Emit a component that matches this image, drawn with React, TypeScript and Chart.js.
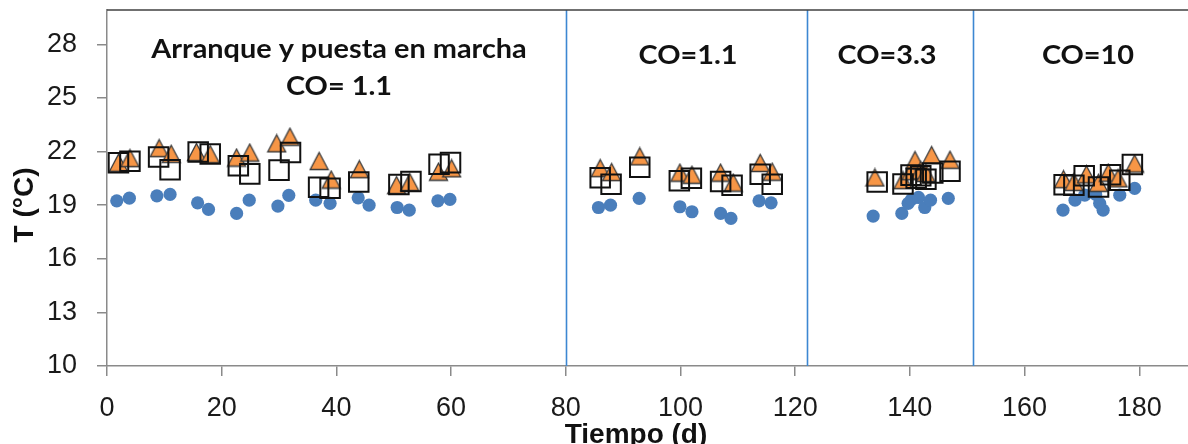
import React, { useEffect, useRef } from 'react';
import { Chart, registerables } from 'chart.js';

Chart.register(...registerables);

// ---- Data ----
const circleDays = [1.7, 3.9, 8.7, 11.0, 15.8, 17.7, 22.6, 24.8, 29.8, 31.7, 36.4, 38.9, 43.8, 45.7, 50.6, 52.7, 57.7, 59.8,
  85.7, 87.8, 92.8, 99.9, 102.0, 107.0, 108.8, 113.7, 115.8,
  133.6, 138.6, 139.7, 140.3, 141.5, 142.6, 143.6, 146.7,
  166.7, 168.8, 170.5, 172.4, 173.1, 173.7, 176.6, 179.2];
const circleTemps = [19.24, 19.39, 19.52, 19.6, 19.13, 18.76, 18.54, 19.28, 18.95, 19.55, 19.28, 19.1, 19.41, 19.0, 18.87, 18.72, 19.24, 19.32,
  18.87, 19.0, 19.38, 18.91, 18.63, 18.54, 18.26, 19.24, 19.13,
  18.39, 18.54, 19.1, 19.32, 19.43, 18.87, 19.28, 19.38,
  18.72, 19.28, 19.56, 19.6, 19.1, 18.72, 19.56, 19.94];

const triangleDays = [2.0, 4.0, 9.1, 11.2, 15.6, 18.0, 22.6, 24.9, 29.6, 31.9, 37.0, 39.1, 44.0, 50.5, 52.8, 57.8, 60.1,
  86.0, 88.0, 92.9, 99.9, 102.0, 107.0, 109.2, 113.9, 116.0,
  133.9, 138.8, 140.2, 140.9, 141.9, 142.8, 143.8, 147.0,
  166.8, 168.6, 170.8, 172.9, 174.6, 176.3, 179.2];
const triangleTemps = [21.37, 21.63, 22.19, 21.87, 21.97, 21.85, 21.66, 21.94, 22.46, 22.83, 21.47, 20.43, 21.01, 20.12, 20.29, 20.87, 21.06,
  21.07, 20.85, 21.73, 20.82, 20.7, 20.82, 20.26, 21.36, 20.87,
  20.55, 20.4, 20.9, 21.52, 20.95, 20.8, 21.8, 21.54,
  20.45, 20.3, 20.72, 20.25, 20.82, 20.5, 21.33];

const squareDays = [2.0, 4.0, 9.0, 11.0, 15.9, 18.0, 22.9, 24.9, 30.0, 32.0, 36.9, 38.9, 43.9, 50.9, 53.0, 57.9, 59.9,
  86.0, 87.9, 92.9, 99.8, 101.9, 107.0, 109.0, 113.9, 116.0,
  134.3, 138.8, 140.2, 141.1, 141.9, 142.8, 144.0, 147.0,
  166.9, 168.6, 170.4, 172.9, 175.0, 176.6, 178.8];
const squareTemps = [21.37, 21.46, 21.69, 20.98, 21.97, 21.86, 21.2, 20.75, 20.96, 21.94, 20.0, 19.94, 20.3, 20.16, 20.33, 21.29, 21.38,
  20.54, 20.17, 21.12, 20.37, 20.5, 20.33, 20.11, 20.73, 20.17,
  20.3, 20.18, 20.68, 20.5, 20.64, 20.45, 20.8, 20.9,
  20.14, 20.12, 20.64, 20.01, 20.7, 20.4, 21.28];

const xTickValues = [0, 20, 40, 60, 80, 100, 120, 140, 160, 180];
const yTickValues = [10, 13, 16, 19, 22, 25, 28];
const phaseBoundaries = [80, 122, 151];
const phaseTitles = ['Arranque y puesta en marcha', 'CO= 1.1', 'CO=1.1', 'CO=3.3', 'CO=10'];
const xAxisTitle = 'Tiempo (d)';
const yAxisTitle = 'T (°C)';

const TICK_FONT = "'Liberation Sans', Arial, sans-serif";
const NOTE_FONT = "Lato, 'Open Sans', sans-serif";

function makeTriangle(): HTMLCanvasElement {
  const c = document.createElement('canvas');
  const w = 21, h = 20;
  c.width = w; c.height = h;
  const ctx = c.getContext('2d')!;
  ctx.beginPath();
  ctx.moveTo(w / 2, 1.5);
  ctx.lineTo(w - 1.5, h - 1.5);
  ctx.lineTo(1.5, h - 1.5);
  ctx.closePath();
  ctx.fillStyle = '#F79646';
  ctx.fill();
  ctx.lineWidth = 1.3;
  ctx.strokeStyle = '#3a3a3a';
  ctx.stroke();
  return c;
}

function stretchedText(ctx: CanvasRenderingContext2D, text: string, cx: number, y: number, sx: number) {
  ctx.save();
  ctx.translate(cx, y);
  ctx.scale(sx, 1);
  ctx.fillText(text, 0, 0);
  ctx.restore();
}

const overlayPlugin = {
  id: 'overlay',
  beforeDatasetsDraw(chart: any) {
    const { ctx, chartArea, scales } = chart;
    ctx.save();
    ctx.strokeStyle = '#3D87D2';
    ctx.lineWidth = 1.6;
    phaseBoundaries.forEach((d) => {
      const x = Math.round(scales.x.getPixelForValue(d)) + 0.5;
      ctx.beginPath();
      ctx.moveTo(x, chartArea.top);
      ctx.lineTo(x, chartArea.bottom);
      ctx.stroke();
    });
    // top border of plot area
    ctx.strokeStyle = '#404040';
    ctx.lineWidth = 1.5;
    ctx.beginPath();
    ctx.moveTo(chartArea.left, chartArea.top);
    ctx.lineTo(chartArea.right, chartArea.top);
    ctx.stroke();
    ctx.restore();
  },
  afterDraw(chart: any) {
    const { ctx } = chart;
    ctx.save();
    ctx.fillStyle = '#111';
    ctx.textAlign = 'center';
    ctx.textBaseline = 'alphabetic';
    ctx.font = `bold 26px ${NOTE_FONT}`;
    const sx = 1.11;
    stretchedText(ctx, phaseTitles[0], 339, 58, sx);
    stretchedText(ctx, phaseTitles[1], 339, 95, sx);
    stretchedText(ctx, phaseTitles[2], 688, 64, sx);
    stretchedText(ctx, phaseTitles[3], 887, 64, sx);
    stretchedText(ctx, phaseTitles[4], 1088, 64, sx);

    // axis titles
    ctx.font = `bold 28px ${TICK_FONT}`;
    ctx.fillText(xAxisTitle, 636, 443);
    ctx.translate(33, 205);
    ctx.rotate(-Math.PI / 2);
    ctx.fillText(yAxisTitle, 0, 0);
    ctx.restore();
  },
};

export default function App() {
  const ref = useRef<HTMLCanvasElement | null>(null);

  useEffect(() => {
    document.body.style.margin = '0';
    const canvas = ref.current!;
    const tri = makeTriangle();

    const toPts = (xs: number[], ys: number[]) => xs.map((x, i) => ({ x, y: ys[i] }));

    const axisColor = '#8a8a8a';

    const chart = new Chart(canvas, {
      type: 'scatter',
      data: {
        datasets: [
          {
            label: 'squares',
            data: toPts(squareDays, squareTemps),
            pointStyle: 'rect',
            pointRadius: 13.8,
            pointHoverRadius: 13.8,
            backgroundColor: 'rgba(255,255,255,0)',
            borderColor: '#111',
            borderWidth: 2,
          },
          {
            label: 'triangles',
            data: toPts(triangleDays, triangleTemps),
            pointStyle: tri as any,
            pointRadius: 10,
            backgroundColor: '#F79646',
            borderColor: '#3a3a3a',
          },
          {
            label: 'circles',
            data: toPts(circleDays, circleTemps),
            pointStyle: 'circle',
            pointRadius: 6.6,
            pointHoverRadius: 6.6,
            backgroundColor: '#4A7EBB',
            borderColor: '#4A7EBB',
            borderWidth: 0,
          },
        ],
      },
      options: {
        responsive: false,
        animation: false,
        events: [],
        layout: { autoPadding: false, padding: { top: 10, left: 0, right: 0, bottom: 0 } },
        plugins: {
          legend: { display: false },
          tooltip: { enabled: false },
          title: { display: false },
        },
        scales: {
          x: {
            type: 'linear',
            min: 0,
            max: 188.5,
            afterBuildTicks: (s: any) => {
              s.ticks = xTickValues.map((v) => ({ value: v }));
            },
            afterFit: (s: any) => {
              s.height = 78;
              s.paddingLeft = 0;
              s.paddingRight = 0;
            },
            ticks: {
              autoSkip: false,
              maxRotation: 0,
              padding: 16,
              color: '#1a1a1a',
              font: { family: TICK_FONT, size: 27 },
            },
            grid: {
              drawOnChartArea: false,
              drawTicks: true,
              tickLength: 10,
              color: axisColor,
              lineWidth: 1.5,
            },
            border: { display: true, color: axisColor, width: 1.5 },
          },
          y: {
            type: 'linear',
            min: 10,
            max: 29.92,
            afterBuildTicks: (s: any) => {
              s.ticks = yTickValues.map((v) => ({ value: v }));
            },
            afterFit: (s: any) => {
              s.width = 107;
              s.paddingTop = 0;
              s.paddingBottom = 0;
            },
            ticks: {
              padding: 20,
              color: '#1a1a1a',
              font: { family: TICK_FONT, size: 27 },
            },
            grid: {
              drawOnChartArea: false,
              drawTicks: true,
              tickLength: 10,
              color: axisColor,
              lineWidth: 1.5,
            },
            border: { display: true, color: axisColor, width: 1.5 },
          },
        },
      },
      plugins: [overlayPlugin],
    });

    return () => chart.destroy();
  }, []);

  return (
    <div style={{ width: 1188, height: 444, background: '#fff' }}>
      <canvas ref={ref} width={1188} height={444} style={{ display: 'block' }} />
    </div>
  );
}
